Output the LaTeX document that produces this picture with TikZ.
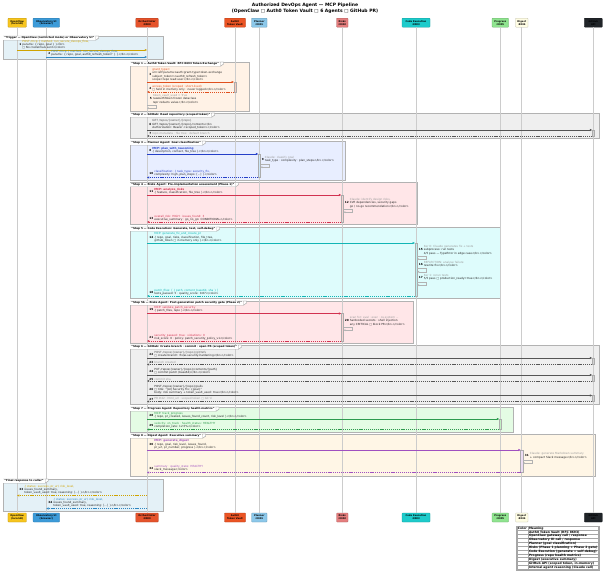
\documentclass[tikz,border=0pt]{standalone}
\usepackage{fontspec}
\usepackage{colortbl}
\setmainfont{DejaVu Sans}
\usetikzlibrary{arrows.meta,calc}
% participant colours
\definecolor{cOC}{HTML}{F7C51E}
\definecolor{cOB}{HTML}{3C9BD9}
\definecolor{cOR}{HTML}{E5532B}
\definecolor{cAU}{HTML}{EB5424}
\definecolor{cPL}{HTML}{8CC8EA}
\definecolor{cRI}{HTML}{E57E7E}
\definecolor{cCE}{HTML}{1DCBCB}
\definecolor{cPR}{HTML}{8FE48F}
\definecolor{cDI}{HTML}{FFFDE4}
\definecolor{cGH}{HTML}{202428}
% text / arrow colours
\definecolor{tOC}{HTML}{CFA300}
\definecolor{tOB}{HTML}{2E86C1}
\definecolor{tAU}{HTML}{E0501E}
\definecolor{tGR}{HTML}{9A9A9A}
\definecolor{tPL}{HTML}{2540C8}
\definecolor{tRI}{HTML}{D23250}
\definecolor{tCE}{HTML}{12B5B5}
\definecolor{tPR}{HTML}{2E9B4E}
\definecolor{tDI}{HTML}{A050C0}
\definecolor{tGH}{HTML}{555555}
\definecolor{txt}{HTML}{222222}
% group fills
\definecolor{fTR}{HTML}{E4F1F7}
\definecolor{fS1}{HTML}{FFF2E6}
\definecolor{fS2}{HTML}{EFEFEF}
\definecolor{fS3}{HTML}{E8EEFF}
\definecolor{fS4}{HTML}{FFE6E8}
\definecolor{fS5}{HTML}{DEFCFC}
\definecolor{fS7}{HTML}{E4FCE4}
\definecolor{fS8}{HTML}{FFF6E6}
\newcommand\mf{\fontsize{2.8}{3.3}\selectfont}
\newcommand\nf{\bfseries\fontsize{2.8}{3.3}\selectfont}
\newcommand\hf{\bfseries\fontsize{2.7}{3.2}\selectfont}
\newcommand\pf{\bfseries\fontsize{2.4}{2.9}\selectfont}
\newcommand\lf{\bfseries\fontsize{3.0}{3.6}\selectfont\setbox\strutbox\hbox{\vrule height2.7pt depth1pt width0pt}}
\newcommand\MSG[5]{\node[mt] (m#1) at (#2,#3-0.7) {#5};\node[mn] (n#1) at ($(m#1.west)+(-0.7,0)$) {#4};}
\newcommand\ARW[6]{\draw[#1] ($(#2|-0,#4)+(#5,0)$) -- ($(#3|-0,#4)+(#6,0)$);}
\newcommand\LOOP[3]{\draw[selfa] ($(#1|-0,#2)+(#3,0)$) -- ++(9,0) -- ++(0,3.2) -- ($(#1|-0,#2+3.2)+(#3,0)$);}
\newcommand\ACT[4]{\filldraw[actbar=#4] ($(#1|-0,#2)+(-1.2,0)$) rectangle ($(#1|-0,#3)+(1.2,0)$);}
\newcommand\GRP[5]{\filldraw[grpbox, fill=#5] (#1,#2) rectangle (#3,#4);}
\newcommand\TAB[4]{\node[gtab] (#1) at (#2,#3) {#4};%
  \filldraw[grpbox, fill=white] (#1.north east) -- ++(3,0) -- ($(#1.east)+(3,0)$) -- (#1.south east) -- cycle;%
  \draw[grpbox] (#1.north west) -- ($(#1.north east)+(3,0)$) -- ($(#1.east)+(3,0)$) -- (#1.south east) -- (#1.south west);}
\begin{document}
\begin{tikzpicture}[x=1pt,y=-1pt,
  pbox/.style={draw=#1!75!black, fill=#1, rounded corners=0.7pt, line width=0.3pt,
     minimum height=9pt, inner xsep=0.8pt, inner ysep=0.2pt, font=\pf, align=center, text=black},
  lifeln/.style={draw=gray!40, line width=0.8pt},
  grpbox/.style={draw=gray!60, line width=0.3pt},
  gtab/.style={font=\hf, inner xsep=1.2pt, inner ysep=0.6pt, fill=white, anchor=north west},
  mt/.style={font=\mf, align=left, inner sep=0pt, anchor=south west, text=txt},
  mn/.style={font=\nf, inner sep=0pt, anchor=east, text=black},
  arrtip/.style={-{Triangle[length=2.2pt,width=2pt]}},
  msgA/.style={arrtip, line width=0.4pt, draw=#1},
  retA/.style={arrtip, line width=0.4pt, draw=#1, dash pattern=on 1.2pt off 0.9pt},
  selfa/.style={-{Triangle[length=1.8pt,width=1.6pt]}, line width=0.25pt, draw=gray!60},
  actbar/.style={fill=#1, draw=gray!65, line width=0.25pt},
]
\useasboundingbox (0,0) rectangle (610,573);
\fill[white] (0,0) rectangle (610,573);

% title
\node[font=\bfseries\fontsize{4.5}{5.6}\selectfont, align=center, inner sep=0pt] (title) at (305,8.3)
  {Authorized DevOps Agent — MCP Pipeline\\(OpenClaw □ Auth0 Token Vault □ 6 Agents □ GitHub PR)};

% participants (top)
\node[pbox=cOC, minimum width=18.5pt] (hOC) at (17.2,22.7) {OpenClaw\\(local AI)};
\node[pbox=cOB, minimum width=26.5pt] (hOB) at (46.3,22.7) {Observatory UI\\(browser)};
\node[pbox=cOR, minimum width=22.5pt] (hOR) at (147,22.7) {Orchestrator\\:8000};
\node[pbox=cAU, minimum width=21pt] (hAU) at (235,22.7) {Auth0\\Token Vault};
\node[pbox=cPL, minimum width=15.5pt] (hPL) at (259.3,22.7) {Planner\\:8001};
\node[pbox=cRI, minimum width=11.5pt] (hRI) at (342.3,22.7) {Risks\\:8002};
\node[pbox=cCE, minimum width=28pt] (hCE) at (416,22.7) {Code Execution\\:8003};
\node[pbox=cPR, minimum width=16.5pt] (hPR) at (500.3,22.7) {Progress\\:8005};
\node[pbox=cDI, minimum width=12.5pt] (hDI) at (521.8,22.7) {Digest\\:8004};
\node[pbox=cGH, minimum width=18pt] (hGH) at (593.3,22.7) {GitHub\\API};
% participants (bottom)
\node[pbox=cOC, minimum width=18.5pt] (fOC) at (17.2,517.5) {OpenClaw\\(local AI)};
\node[pbox=cOB, minimum width=26.5pt] (fOB) at (46.3,517.5) {Observatory UI\\(browser)};
\node[pbox=cOR, minimum width=22.5pt] (fOR) at (147,517.5) {Orchestrator\\:8000};
\node[pbox=cAU, minimum width=21pt] (fAU) at (235,517.5) {Auth0\\Token Vault};
\node[pbox=cPL, minimum width=15.5pt] (fPL) at (259.3,517.5) {Planner\\:8001};
\node[pbox=cRI, minimum width=11.5pt] (fRI) at (342.3,517.5) {Risks\\:8002};
\node[pbox=cCE, minimum width=28pt] (fCE) at (416,517.5) {Code Execution\\:8003};
\node[pbox=cPR, minimum width=16.5pt] (fPR) at (500.3,517.5) {Progress\\:8005};
\node[pbox=cDI, minimum width=12.5pt] (fDI) at (521.8,517.5) {Digest\\:8004};
\node[pbox=cGH, minimum width=18pt] (fGH) at (593.3,517.5) {GitHub\\API};

% group backgrounds
\GRP{3}{36}{163}{59.5}{fTR}
\GRP{130}{62}{249}{111}{fS1}
\GRP{130}{113}{599}{138.5}{fS2}
\GRP{130}{141}{345}{180}{fS3}
\GRP{130}{182.5}{417}{224.5}{fS4}
\GRP{130}{227}{500}{298.5}{fS5}
\GRP{130}{301}{413}{343}{fS4}
\GRP{130}{345}{599}{404}{fS2}
\GRP{130}{407}{513}{432}{fS7}
\GRP{130}{434}{595}{476}{fS8}
\GRP{3}{479}{163}{511}{fTR}

% lifelines
\foreach \p in {OC,OB,OR,AU,PL,RI,CE,PR,DI,GH}{\draw[lifeln] (h\p.south) -- (f\p.north);}

% group tabs
\TAB{tTR}{3}{36}{"Trigger — OpenClaw (restricted mode) or Observatory UI"}
\TAB{tS1}{130}{62}{"Step 1 — Auth0 Token Vault: RFC 8693 Token Exchange"}
\TAB{tS2}{130}{113}{"Step 2 — GitHub: Read repository (scoped token)"}
\TAB{tS3}{130}{141}{"Step 3 — Planner Agent: Goal classification"}
\TAB{tS4}{130}{182.5}{"Step 4 — Risks Agent: Pre-implementation assessment (Phase 1)"}
\TAB{tS5}{130}{227}{"Step 5 — Code Execution: Generate, test, self-debug"}
\TAB{tS5b}{130}{301}{"Step 5b — Risks Agent: Post-generation patch security gate (Phase 2)"}
\TAB{tS6}{130}{345}{"Step 6 — GitHub: Create branch · commit · open PR (scoped token)"}
\TAB{tS7}{130}{407}{"Step 7 — Progress Agent: Repository health metrics"}
\TAB{tS8}{130}{434}{"Step 8 — Digest Agent: Executive summary"}
\TAB{tFI}{3}{479}{"Final response to caller"}

% activation bars
\ACT{hAU}{82}{92}{cAU!30}
\ACT{hGH}{130}{136}{gray!35}
\ACT{hPL}{154}{177.5}{cPL!45}
\ACT{hRI}{195}{222}{cRI!35}
\ACT{hCE}{243}{296}{cCE!30}
\ACT{hRI}{313.5}{341}{cRI!35}
\ACT{hGH}{358}{364.5}{gray!35}
\ACT{hGH}{375}{381}{gray!35}
\ACT{hGH}{395.5}{401.5}{gray!35}
\ACT{hPR}{419}{429.5}{cPR!55}
\ACT{hDI}{450}{472.5}{tDI!20}

% ---- Trigger
\MSG{1}{22.2}{50}{1}{\textcolor{tOC}{POST /mcp \{ method: run\_secure\_devops\_flow,}\\params: \{ repo, goal \} \}<br>\\□ No credentials sent</color>}
\ARW{msgA=tOC}{hOC}{hOR}{50}{0}{0}
\MSG{2}{51.2}{57}{2}{\textcolor{tOB}{POST /mcp \{ method: run\_secure\_devops\_flow,}\\params: \{ repo, goal, auth0\_refresh\_token? \} \}</b></color>}
\ARW{msgA=tOB}{hOB}{hOR}{57}{0}{0}

% ---- Step 1
\MSG{3}{152.2}{82}{3}{\textcolor{tAU}{grant\_type=}\\urn:ietf:params:oauth:grant-type:token-exchange\\subject\_token=<auth0\_refresh\_token>\\scope=repo read:user</b></color>}
\ARW{msgA=tAU}{hOR}{hAU}{82}{0}{-1.2}
\MSG{4}{152.2}{92}{4}{\textcolor{tAU}{access\_token (scoped · short-lived)}\\□ held in memory only · never logged</b></color>}
\ARW{retA=tAU}{hAU}{hOR}{92}{-1.2}{0}
\MSG{5}{152.7}{104.5}{5}{\textcolor{tGR}{token\_vault\_used = True}\\rawAuthToken frozen dataclass\\repr redacts value</b></color>}
\LOOP{hOR}{105}{0}

% ---- Step 2
\MSG{6}{152.2}{130}{6}{\textcolor{tGH}{GET /repos/\{owner\}/\{repo\}}\\GET /repos/\{owner\}/\{repo\}/contents</b>\\Authorization: Bearer <scoped\_token></color>}
\draw[msgA=tGH, line width=0.55pt] ($(hOR|-0,130)$) -- ($(hGH|-0,130)+(-1.2,0)$);
\MSG{7}{152.2}{136}{7}{\textcolor{tGR}{repo metadata · file tree · default branch}}
\ARW{retA=tGH}{hGH}{hOR}{136}{-1.2}{0}

% ---- Step 3
\MSG{8}{152.2}{154}{8}{\textcolor{tPL}{\textbf{MCP: plan\_with\_reasoning}}\\\{ description, context, file\_tree \}</b></color>}
\ARW{msgA=tPL}{hOR}{hPL}{154}{0}{-1.2}
\MSG{9}{264.7}{163.5}{9}{\textcolor{tGR}{Claude: classify goal}\\task\_type · complexity · plan\_steps</b></color>}
\LOOP{hPL}{164}{1.2}
\MSG{10}{154.2}{177.5}{10}{\textcolor{tPL}{classification: \{ task\_type: security\_fix,}\\complexity: high, plan\_steps: [...] \}</color>}
\ARW{retA=tPL}{hPL}{hOR}{177.5}{-1.2}{0}

% ---- Step 4
\MSG{11}{154.2}{195}{11}{\textcolor{tRI}{\textbf{MCP: analyze\_risks}}\\\{ feature, classification, file\_tree \}</b></color>}
\ARW{msgA=tRI}{hOR}{hRI}{195}{0}{-1.2}
\MSG{12}{349.6}{208.5}{12}{\textcolor{tGR}{Claude: identify design risks,}\\CVE dependencies, security gaps\\go / no-go recommendation</b></color>}
\LOOP{hRI}{209}{1.2}
\MSG{13}{154.2}{222}{13}{\textcolor{tRI}{overall\_risk: HIGH · issues\_found: 3}\\executive\_summary · go\_no\_go: CONDITIONAL</color>}
\ARW{retA=tRI}{hRI}{hOR}{222}{-1.2}{0}

% ---- Step 5
\MSG{14}{154.2}{243}{14}{\textcolor{tCE}{MCP: generate\_fix\_and\_create\_pr}\\\{ repo, goal, risks, classification, file\_tree,\\github\_token □ in memory only \}</b></color>}
\ARW{msgA=tCE}{hOR}{hCE}{243}{0}{-1.2}
\MSG{15}{423.6}{255.5}{15}{\textcolor{tGR}{Iter 0: Claude generates fix + tests}\\subprocess: run tests\\4/5 pass — TypeError in edge case</b></color>}
\LOOP{hCE}{256}{1.2}
\MSG{16}{423.6}{268}{16}{\textcolor{tGR}{REFLECTION: analyse failure}\\rewrite fix</b></color>}
\LOOP{hCE}{268.5}{1.2}
\MSG{17}{423.6}{281.5}{17}{\textcolor{tGR}{Iter 1: rerun tests}\\5/5 pass □ production\_ready=true</b></color>}
\LOOP{hCE}{282}{1.2}
\MSG{18}{154.2}{296}{18}{\textcolor{tCE}{patch\_files: [ \{ path, content\_base64, sha \} ]}\\tests\_passed: 5 · quality\_score: 0.87</color>}
\ARW{retA=tCE}{hCE}{hOR}{296}{-1.2}{0}

% ---- Step 5b
\MSG{19}{154.2}{313.5}{19}{\textcolor{tRI}{MCP: validate\_patch\_security}\\\{ patch\_files, repo \}</b></color>}
\ARW{msgA=tRI}{hOR}{hRI}{313.5}{0}{-1.2}
\MSG{20}{349.6}{326.5}{20}{\textcolor{tGR}{scan for: eval · exec · os.system ...}\\hardcoded secrets · shell injection\\any CRITICAL □ block PR</b></color>}
\LOOP{hRI}{327}{1.2}
\MSG{21}{154.2}{341}{21}{\textcolor{tRI}{security\_passed: true · violations: 0}\\risk\_score: 0 · policy: patch\_security\_policy\_v1</color>}
\ARW{retA=tRI}{hRI}{hOR}{341}{-1.2}{0}

% ---- Step 6
\MSG{22}{154.2}{358}{22}{\textcolor{tGH}{POST /repos/\{owner\}/\{repo\}/git/refs}\\□ create branch: fix/ai-security-hardening</b></color>}
\draw[msgA=tGH, line width=0.55pt] ($(hOR|-0,358)$) -- ($(hGH|-0,358)+(-1.2,0)$);
\MSG{23}{154.2}{364.5}{23}{\textcolor{tGR}{branch created}}
\ARW{retA=tGH}{hGH}{hOR}{364.5}{-1.2}{0}
\MSG{24}{154.2}{375}{24}{PUT /repos/\{owner\}/\{repo\}/contents/\{path\}\\□ commit patch (base64)</b></color>}
\draw[msgA=tGH, line width=0.55pt] ($(hOR|-0,375)$) -- ($(hGH|-0,375)+(-1.2,0)$);
\MSG{25}{154.2}{381}{25}{\textcolor{tGR}{commit sha}}
\ARW{retA=tGH}{hGH}{hOR}{381}{-1.2}{0}
\MSG{26}{154.2}{395.5}{26}{POST /repos/\{owner\}/\{repo\}/pulls\\□ title: "[AI] Security Fix: \{goal\}"\\body: risk summary + token\_vault\_used: true</b></color>}
\draw[msgA=tGH, line width=0.55pt] ($(hOR|-0,395.5)$) -- ($(hGH|-0,395.5)+(-1.2,0)$);
\MSG{27}{154.2}{401.5}{27}{\textcolor{tGR}{PR \#42 · html\_url · scoped token □ GC'd}}
\ARW{retA=tGH}{hGH}{hOR}{401.5}{-1.2}{0}

% ---- Step 7
\MSG{28}{154.2}{419}{28}{\textcolor{tPR}{MCP: track\_progress}\\\{ repo, pr\_created, issues\_found\_count, risk\_level \}</b></color>}
\ARW{msgA=tPR}{hOR}{hPR}{419}{0}{-1.2}
\MSG{29}{154.2}{429.5}{29}{\textcolor{tPR}{velocity: on\_track · health\_status: HEALTHY}\\completion\_rate: 12.5\%</color>}
\ARW{retA=tPR}{hPR}{hOR}{429.5}{-1.2}{0}

% ---- Step 8
\MSG{30}{154.2}{450}{30}{\textcolor{tDI}{\textbf{MCP: generate\_digest}}\\\{ repo, goal, risk\_level, issues\_found,\\pr\_url, pr\_number, progress \}</b></color>}
\ARW{msgA=tDI}{hOR}{hDI}{450}{0}{-1.2}
\MSG{31}{529.6}{459.5}{31}{\textcolor{tGR}{Claude: generate Markdown summary}\\+ compact Slack message</b></color>}
\LOOP{hDI}{460}{1.2}
\MSG{32}{154.2}{472.5}{32}{\textcolor{tDI}{summary · quality\_state: HEALTHY}\\slack\_message</color>}
\ARW{retA=tDI}{hDI}{hOR}{472.5}{-1.2}{0}

% ---- Final
\MSG{33}{24.2}{495.5}{33}{\textcolor{tOC}{\{ status: success, pr\_url, risk\_level,}\\issues\_found\_summary,\\token\_vault\_used: true, reasoning: [...] \}</b></color>}
\ARW{retA=tOC}{hOR}{hOC}{495.5}{0}{0}
\MSG{34}{53.2}{508.5}{34}{\textcolor{tOB}{\{ status: success, pr\_url, risk\_level,}\\issues\_found\_summary,\\token\_vault\_used: true, reasoning: [...] \}</b></color>}
\ARW{retA=tOB}{hOR}{hOB}{508.5}{0}{0}

% legend
\node[anchor=north west, draw=gray!70, line width=0.35pt, fill=white, inner sep=0.6pt, font=\lf] (legend) at (516,525.5) {%
\setlength\tabcolsep{1pt}\setlength\arrayrulewidth{0.2pt}\arrayrulecolor{gray!70}%
\begin{tabular}{|l|l|}\hline
Color & Meaning\\\hline
 & Auth0 Token Vault (RFC 8693)\\\hline
 & OpenClaw gateway call / response\\\hline
 & Observatory UI call / response\\\hline
 & Planner (goal classification)\\\hline
 & Risks (Phase 1 planning + Phase 2 gate)\\\hline
 & Code Execution (generate + self-debug)\\\hline
 & Progress (repo health metrics)\\\hline
 & Digest (executive summary)\\\hline
 & GitHub API (scoped token, in-memory)\\\hline
 & Internal agent reasoning (Claude call)\\\hline
\end{tabular}};
\end{tikzpicture}
\end{document}
